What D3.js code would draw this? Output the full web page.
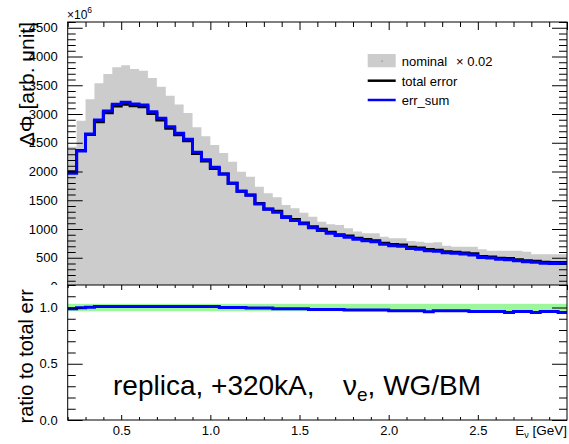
<!DOCTYPE html>
<html>
<head>
<meta charset="utf-8">
<script src="https://cdn.jsdelivr.net/npm/d3@7"></script>
<style>
  html, body { margin: 0; padding: 0; background: #fff; }
  svg { display: block; font-family: "Liberation Sans", Arial, Helvetica, sans-serif; }
</style>
</head>
<body>
<svg id="chart" width="569" height="444"></svg>
<script>
// Neutrino energy bin edges [GeV]
const binEdges = [0.20, 0.25, 0.30, 0.35, 0.40, 0.45, 0.50, 0.55, 0.60, 0.65,
                  0.70, 0.75, 0.80, 0.85, 0.90, 0.95, 1.00, 1.05, 1.10, 1.15,
                  1.20, 1.25, 1.30, 1.35, 1.40, 1.45, 1.50, 1.55, 1.60, 1.65,
                  1.70, 1.75, 1.80, 1.85, 1.90, 1.95, 2.00, 2.05, 2.10, 2.15,
                  2.20, 2.25, 2.30, 2.35, 2.40, 2.45, 2.50, 2.55, 2.60, 2.65,
                  2.70, 2.75, 2.80, 2.85, 2.90, 2.95, 3.00];

// Nominal flux, already multiplied by nominalScale (units of 1e6)
const nominalScale = 0.02;
const nominalScaled = [2431, 2883, 3255, 3533, 3696, 3812, 3847, 3783, 3753, 3626,
                       3475, 3318, 3165, 3018, 2770, 2611, 2461, 2322, 2170, 1997,
                       1910, 1736, 1621, 1551, 1417, 1360, 1284, 1214, 1127, 1082,
                       1070, 1012,  955,  925,  925,  866,  838,  838,  791,  779,
                        762,  768,  710,  692,  692,  692,  647,  623,  623,  623,
                        623,  605,  560,  560,  560,  560];

// Total flux error (units of 1e6)
const totalError = [1994, 2364, 2644, 2867, 3022, 3138, 3171, 3143, 3126, 3010,
                    2896, 2751, 2638, 2535, 2311, 2184, 2054, 1955, 1795, 1658,
                    1593, 1442, 1350, 1308, 1215, 1164, 1106, 1039,  994,  942,
                     901,  878,  840,  816,  796,  753,  731,  721,  682,  669,
                     644,  630,  604,  595,  582,  570,  523,  513,  493,  487,
                     466,  446,  440,  420,  417,  419];

// Quadrature sum of the individual error sources (units of 1e6)
const errSum = [1970, 2357, 2652, 2896, 3052, 3169, 3203, 3174, 3157, 3040,
                2925, 2779, 2664, 2560, 2334, 2206, 2075, 1955, 1795, 1658,
                1585, 1435, 1343, 1292, 1200, 1150, 1093, 1020,  976,  925,
                 885,  858,  821,  797,  778,  736,  710,  700,  662,  650,
                 620,  612,  586,  578,  565,  550,  505,  495,  476,  465,
                 450,  430,  420,  405,  402,  400];

// err_sum / total error
const ratio = [0.988, 0.997, 1.003, 1.010, 1.010, 1.010, 1.010, 1.010, 1.010, 1.010,
               1.010, 1.010, 1.010, 1.010, 1.010, 1.010, 1.010, 1.000, 1.000, 1.000,
               0.995, 0.995, 0.995, 0.988, 0.988, 0.988, 0.988, 0.982, 0.982, 0.982,
               0.982, 0.977, 0.977, 0.977, 0.977, 0.977, 0.971, 0.971, 0.971, 0.971,
               0.962, 0.971, 0.971, 0.971, 0.971, 0.965, 0.965, 0.965, 0.965, 0.955,
               0.965, 0.965, 0.955, 0.965, 0.965, 0.955];

// Reference band around unity in the ratio pad
const ratioBand = [0.967, 1.033];

// Axis tick labels
const xTickLabels = [0.5, 1.0, 1.5, 2.0, 2.5];
const yTickLabelsTop = [0, 500, 1000, 1500, 2000, 2500, 3000, 3500, 4000, 4500];
const yTickLabelsRatio = [0.0, 0.5, 1.0];

// ---- layout ----
const frameL = 67.7, frameR = 567;
const topT = 22, topB = 286.5;
const lowT = 285, lowB = 420;

const svg = d3.select("#chart");

const x = d3.scaleLinear().domain([0.2, 3.0]).range([frameL, frameR]);
const yTop = d3.scaleLinear().domain([0, 4600]).range([topB, topT]);
const yLow = d3.scaleLinear().domain([0, 1.2]).range([lowB, lowT]);

// per-bin records: lower edge + value, closing point at the last upper edge
function stepPoints(values) {
  const pts = values.map((v, i) => ({ e: binEdges[i], v }));
  pts.push({ e: binEdges[binEdges.length - 1], v: values[values.length - 1] });
  return pts;
}

const defs = svg.append("defs");
defs.append("clipPath").attr("id", "clipTop")
  .append("rect").attr("x", frameL).attr("y", topT)
  .attr("width", frameR - frameL).attr("height", topB - topT);
defs.append("clipPath").attr("id", "clipLow")
  .append("rect").attr("x", frameL).attr("y", lowT)
  .attr("width", frameR - frameL).attr("height", lowB - lowT);

function styleAxis(g) {
  g.select(".domain").remove();
  g.selectAll("line").attr("stroke", "#000");
  g.attr("font-family", null).attr("font-size", null);
  g.selectAll("text").attr("fill", "#000").style("font-size", "13px");
}

const minorYTop = d3.range(0, 4601, 100).filter(v => v % 500 !== 0);
const minorX = d3.range(0, 29).map(i => 0.2 + i * 0.1).filter(v => Math.abs(v * 2 - Math.round(v * 2)) > 1e-6);
const majorX = [0.5, 1.0, 1.5, 2.0, 2.5, 3.0];

// ===== upper pad =====
const topPad = svg.append("g");
const topPlot = topPad.append("g").attr("clip-path", "url(#clipTop)");

const area = d3.area()
  .x(d => x(d.e)).y0(yTop(0)).y1(d => yTop(d.v))
  .curve(d3.curveStepAfter);
topPlot.append("path")
  .datum(stepPoints(nominalScaled))
  .attr("d", area)
  .attr("fill", "#cccccc");

const lineTop = d3.line().x(d => x(d.e)).y(d => yTop(d.v)).curve(d3.curveStepAfter);
topPlot.append("path")
  .datum(stepPoints(totalError))
  .attr("d", lineTop)
  .attr("fill", "none").attr("stroke", "#000").attr("stroke-width", 3)
  .attr("stroke-linejoin", "miter");
topPlot.append("path")
  .datum(stepPoints(errSum))
  .attr("d", lineTop)
  .attr("fill", "none").attr("stroke", "#0000ff").attr("stroke-width", 3)
  .attr("stroke-linejoin", "miter");

topPad.append("rect")
  .attr("x", frameL).attr("y", topT)
  .attr("width", frameR - frameL).attr("height", topB - topT)
  .attr("fill", "none").attr("stroke", "#000").attr("stroke-width", 1);

// left axis
topPad.append("g").attr("transform", `translate(${frameL},0)`)
  .call(d3.axisLeft(yTop).tickValues(yTickLabelsTop).tickSize(-15).tickPadding(10).tickFormat(d3.format("d")))
  .call(styleAxis);
topPad.append("g").attr("transform", `translate(${frameL},0)`)
  .call(d3.axisLeft(yTop).tickValues(minorYTop).tickSize(-8).tickFormat(""))
  .call(styleAxis);
// right axis
topPad.append("g").attr("transform", `translate(${frameR},0)`)
  .call(d3.axisRight(yTop).tickValues(yTickLabelsTop).tickSize(-15).tickFormat(""))
  .call(styleAxis);
topPad.append("g").attr("transform", `translate(${frameR},0)`)
  .call(d3.axisRight(yTop).tickValues(minorYTop).tickSize(-8).tickFormat(""))
  .call(styleAxis);
// top axis
topPad.append("g").attr("transform", `translate(0,${topT})`)
  .call(d3.axisTop(x).tickValues(majorX).tickSize(-8).tickFormat(""))
  .call(styleAxis);
topPad.append("g").attr("transform", `translate(0,${topT})`)
  .call(d3.axisTop(x).tickValues(minorX).tickSize(-5).tickFormat(""))
  .call(styleAxis);

// exponent
const expo = topPad.append("text").attr("x", 67).attr("y", 19)
  .attr("font-size", 12).attr("fill", "#000");
expo.append("tspan").text("\u00d710");
expo.append("tspan").attr("dy", -6).attr("font-size", 8.5).text("6");

// y title
topPad.append("text")
  .attr("transform", "translate(34,22) rotate(-90)")
  .attr("text-anchor", "end").attr("font-size", 21).attr("fill", "#000")
  .text("\u0394\u03a6 [arb. unit]");

// legend
const lg = topPad.append("g");
lg.append("rect").attr("x", 367.7).attr("y", 54).attr("width", 28).attr("height", 13.3).attr("fill", "#cccccc");
lg.append("circle").attr("cx", 382).attr("cy", 61).attr("r", 0.6).attr("fill", "#555");
lg.append("line").attr("x1", 367.7).attr("x2", 395.7).attr("y1", 80.7).attr("y2", 80.7)
  .attr("stroke", "#000").attr("stroke-width", 2.5);
lg.append("line").attr("x1", 367.7).attr("x2", 395.7).attr("y1", 100).attr("y2", 100)
  .attr("stroke", "#0000ff").attr("stroke-width", 2.5);
const lt1 = lg.append("text").attr("x", 401.7).attr("y", 66).attr("font-size", 13).attr("fill", "#000");
lt1.append("tspan").text("nominal");
lt1.append("tspan").attr("x", 456).text("\u00d7 " + nominalScale.toFixed(2));
lg.append("text").attr("x", 401.7).attr("y", 85.5).attr("font-size", 13).attr("fill", "#000").text("total error");
lg.append("text").attr("x", 401.7).attr("y", 104.5).attr("font-size", 13).attr("fill", "#000").text("err_sum");

// ===== lower pad =====
const lowPad = svg.append("g");
lowPad.append("rect").attr("x", 0).attr("y", lowT).attr("width", 569).attr("height", 444 - lowT).attr("fill", "#fff");

const lowPlot = lowPad.append("g").attr("clip-path", "url(#clipLow)");
lowPlot.append("rect")
  .attr("x", x(0.2)).attr("width", x(3.0) - x(0.2))
  .attr("y", yLow(ratioBand[1])).attr("height", yLow(ratioBand[0]) - yLow(ratioBand[1]))
  .attr("fill", "#9cf79c");

const lineLow = d3.line().x(d => x(d.e)).y(d => yLow(d.v)).curve(d3.curveStepAfter);
lowPlot.append("path")
  .datum(stepPoints(ratio))
  .attr("d", lineLow)
  .attr("fill", "none").attr("stroke", "#0000ff").attr("stroke-width", 3)
  .attr("stroke-linejoin", "miter");

lowPad.append("rect")
  .attr("x", frameL).attr("y", lowT)
  .attr("width", frameR - frameL).attr("height", lowB - lowT)
  .attr("fill", "none").attr("stroke", "#000").attr("stroke-width", 1);

const minorYLow = d3.range(0, 13).map(i => i / 10).filter(v => Math.abs(v * 2 - Math.round(v * 2)) > 1e-6);

lowPad.append("g").attr("transform", `translate(${frameL},0)`)
  .call(d3.axisLeft(yLow).tickValues(yTickLabelsRatio).tickSize(-15).tickPadding(10).tickFormat(d3.format(".1f")))
  .call(styleAxis);
lowPad.append("g").attr("transform", `translate(${frameL},0)`)
  .call(d3.axisLeft(yLow).tickValues(minorYLow).tickSize(-8).tickFormat(""))
  .call(styleAxis);
lowPad.append("g").attr("transform", `translate(${frameR},0)`)
  .call(d3.axisRight(yLow).tickValues(yTickLabelsRatio).tickSize(-15).tickFormat(""))
  .call(styleAxis);
lowPad.append("g").attr("transform", `translate(${frameR},0)`)
  .call(d3.axisRight(yLow).tickValues(minorYLow).tickSize(-8).tickFormat(""))
  .call(styleAxis);
// bottom axis with labels
lowPad.append("g").attr("transform", `translate(0,${lowB})`)
  .call(d3.axisBottom(x).tickValues(xTickLabels).tickSize(-5).tickPadding(5.5).tickFormat(d3.format(".1f")))
  .call(styleAxis);
lowPad.append("g").attr("transform", `translate(0,${lowB})`)
  .call(d3.axisBottom(x).tickValues(minorX).tickSize(-3).tickFormat(""))
  .call(styleAxis);
// top edge of ratio frame
lowPad.append("g").attr("transform", `translate(0,${lowT})`)
  .call(d3.axisTop(x).tickValues(majorX).tickSize(-5).tickFormat(""))
  .call(styleAxis);
lowPad.append("g").attr("transform", `translate(0,${lowT})`)
  .call(d3.axisTop(x).tickValues(minorX).tickSize(-3).tickFormat(""))
  .call(styleAxis);

// y title
lowPad.append("text")
  .attr("transform", "translate(33,289) rotate(-90)")
  .attr("text-anchor", "end").attr("font-size", 20).attr("fill", "#000")
  .text("ratio to total err");

// x title
const xt = lowPad.append("text").attr("x", frameR).attr("y", 434.5)
  .attr("text-anchor", "end").attr("font-size", 13.5).attr("fill", "#000");
xt.append("tspan").text("E");
xt.append("tspan").attr("dy", 3).attr("font-size", 9).text("\u03bd");
xt.append("tspan").attr("dy", -3).text(" [GeV]");

// configuration label
const cfg = lowPad.append("text").attr("x", 113).attr("y", 395)
  .attr("font-size", 28).attr("fill", "#000");
cfg.append("tspan").text("replica, +320kA,");
cfg.append("tspan").attr("x", 343).text("\u03bd");
cfg.append("tspan").attr("dy", 6).attr("font-size", 19).text("e");
cfg.append("tspan").attr("dy", -6).text(", WG/BM");
</script>
</body>
</html>
